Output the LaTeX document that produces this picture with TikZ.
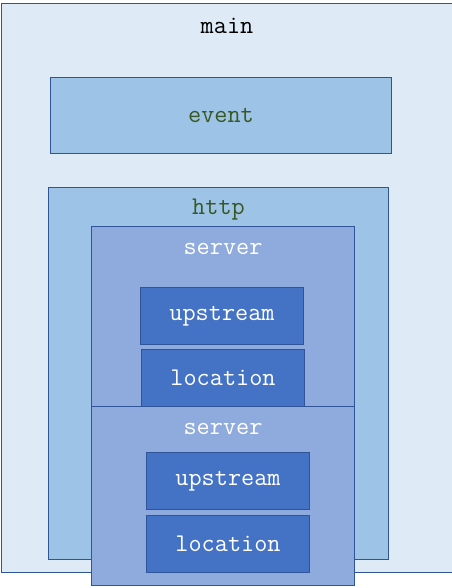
\documentclass[tikz,border=0pt]{standalone}
\usepackage{fontspec}
\definecolor{lineblue}{HTML}{2F5597}
\definecolor{mainfill}{HTML}{DEEBF7}
\definecolor{httpfill}{HTML}{9DC3E6}
\definecolor{serverfill}{HTML}{8FAADC}
\definecolor{blockfill}{HTML}{4472C4}
\definecolor{olive}{HTML}{385723}
\begin{document}
\begin{tikzpicture}[x=1pt, y=-1pt,
    font=\ttfamily\fontsize{25.5}{28}\selectfont,
    box/.style={draw=lineblue, line width=1pt, rectangle, anchor=north west, inner sep=0pt},
    title/.style 2 args={label={[anchor=center, yshift=-23pt, text=#1]north:#2}}]
  \useasboundingbox (0,0) rectangle (451,588);
  % outer blocks
  \node[box, fill=mainfill, minimum width=452, minimum height=569, title={black}{main}] (main) at (0.5,3) {};
  \node[box, fill=httpfill, minimum width=341, minimum height=76, text=olive] (event) at (50,77) {event};
  \node[box, fill=httpfill, minimum width=340, minimum height=372, title={olive}{http}] (http) at (48,187) {};
  % first server
  \node[box, fill=serverfill, minimum width=263, minimum height=180, title={white}{server}] (server1) at (91,226) {};
  \node[box, fill=blockfill, minimum width=163, minimum height=57, text=white] (upstream1) at (140,287) {upstream};
  \node[box, fill=blockfill, minimum width=163, minimum height=57, text=white] (location1) at (141,349) {location};
  % second server
  \node[box, fill=serverfill, minimum width=263, minimum height=179, title={white}{server}] (server2) at (91,406) {};
  \node[box, fill=blockfill, minimum width=163, minimum height=57, text=white] (upstream2) at (146,452) {upstream};
  \node[box, fill=blockfill, minimum width=163, minimum height=57, text=white] (location2) at (146,515) {location};
\end{tikzpicture}
\end{document}
